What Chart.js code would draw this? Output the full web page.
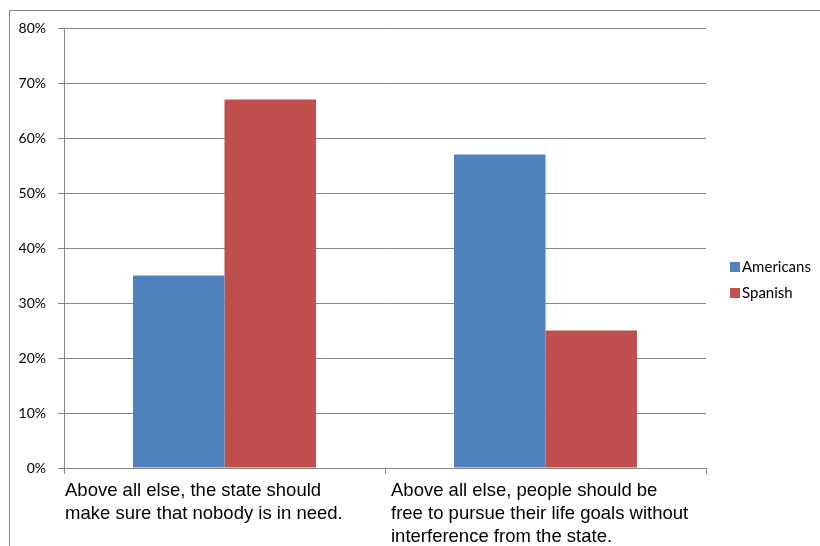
<!DOCTYPE html>
<html>
<head>
<meta charset="utf-8">
<script src="https://cdn.jsdelivr.net/npm/chart.js@4/dist/chart.umd.min.js"></script>
<style>
  html, body { margin: 0; padding: 0; background: #fff; }
  #wrap { position: relative; width: 820px; height: 546px; overflow: hidden; }
  #frame { position: absolute; left: 9px; top: 10px; width: 900px; height: 600px;
           border-top: 1.5px solid #878787; border-left: 1.5px solid #878787; }
  canvas { position: absolute; left: 0; top: 0; }
</style>
</head>
<body>
<div id="wrap">
  <div id="frame"></div>
  <canvas id="chart" width="820" height="546"></canvas>
</div>
<script>
// data
const categories = [
    ["Above all else, the state should", "make sure that nobody is in need."],
    ["Above all else, people should be", "free to pursue their life goals without", "interference from the state."]
];
const seriesNames = ["Americans", "Spanish"];
const americans = [0.35, 0.57];
const spanish = [0.67, 0.25];
const yTicks = [0, 0.1, 0.2, 0.3, 0.4, 0.5, 0.6, 0.7, 0.8];

const colors = ["#4F81BD", "#C0504D"];
const gridGray = "#878787";

// category labels, left aligned under each category
const catLabels = {
    id: "catLabels",
    afterDraw(chart) {
        const ctx = chart.ctx;
        const x = chart.scales.x;
        const step = (x.right - x.left) / categories.length;
        const inset = [1, 6];
        ctx.save();
        ctx.font = "18.5px 'Liberation Sans', Arial, sans-serif";
        ctx.fillStyle = "#000";
        ctx.textAlign = "left";
        ctx.textBaseline = "middle";
        categories.forEach((lines, i) => {
            const left = x.getPixelForValue(i) - step / 2 + inset[i];
            lines.forEach((ln, j) => {
                ctx.fillText(ln, left, x.top + 23 + j * 23);
            });
        });
        ctx.restore();
    }
};

// legend on the right
const sideLegend = {
    id: "sideLegend",
    afterDraw(chart) {
        const ctx = chart.ctx;
        ctx.save();
        ctx.font = "15px Lato, 'Open Sans', sans-serif";
        ctx.textBaseline = "middle";
        ctx.textAlign = "left";
        chart.data.datasets.forEach((ds, i) => {
            const cy = 267 + i * 26;
            ctx.fillStyle = ds.backgroundColor;
            ctx.fillRect(730, cy - 5, 10, 10);
            ctx.fillStyle = "#000";
            ctx.fillText(ds.label, 742, cy);
        });
        ctx.restore();
    }
};

new Chart(document.getElementById("chart"), {
    type: "bar",
    data: {
        labels: categories.map(c => c.join(" ")),
        datasets: [
            { label: seriesNames[0], data: americans, backgroundColor: colors[0] },
            { label: seriesNames[1], data: spanish, backgroundColor: colors[1] }
        ]
    },
    options: {
        responsive: false,
        animation: false,
        devicePixelRatio: 1,
        layout: { padding: { top: 28, right: 114, left: 0, bottom: 0 } },
        datasets: { bar: { categoryPercentage: 0.57, barPercentage: 1.0 } },
        plugins: { legend: { display: false }, tooltip: { enabled: false } },
        scales: {
            x: {
                offset: true,
                afterFit(s) { s.height = 78; },
                grid: { offset: true, drawOnChartArea: false, drawTicks: true, tickLength: 6, color: gridGray, lineWidth: 1 },
                border: { color: gridGray, width: 1 },
                ticks: { display: false }
            },
            y: {
                min: 0,
                max: 0.8,
                afterFit(s) { s.width = 64; },
                afterBuildTicks(s) { s.ticks = yTicks.map(v => ({ value: v })); },
                grid: { color: gridGray, lineWidth: 1, tickLength: 6 },
                border: { color: gridGray, width: 1 },
                ticks: {
                    padding: 12,
                    color: "#000",
                    font: { family: "Lato, 'Open Sans', sans-serif", size: 14 },
                    callback: v => Math.round(v * 100) + "%"
                }
            }
        }
    },
    plugins: [catLabels, sideLegend]
});
</script>
</body>
</html>
